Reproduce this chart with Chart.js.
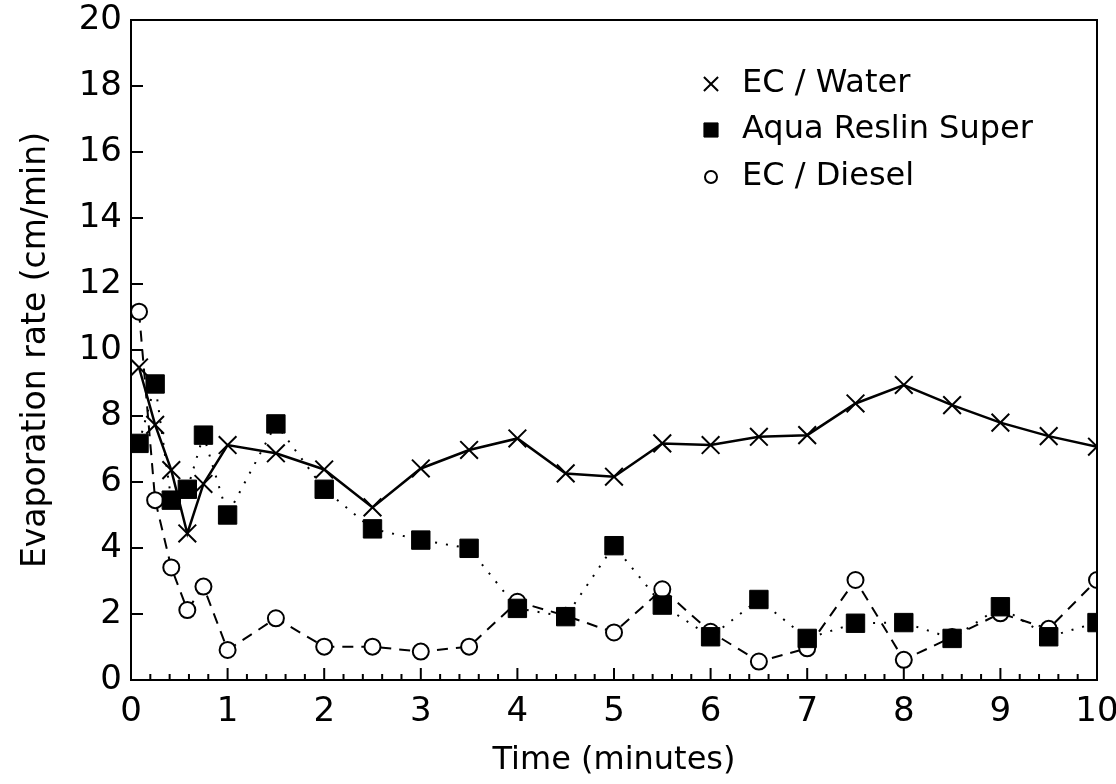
<!DOCTYPE html>
<html>
<head>
<meta charset="utf-8">
<script src="https://cdn.jsdelivr.net/npm/chart.js@4"></script>
<style>
  html, body { margin: 0; padding: 0; background: #fff; }
  #wrap { width: 1116px; height: 784px; }
</style>
</head>
<body>
<div id="wrap"><canvas id="evapChart"></canvas></div>
<script>
// time in minutes (first readings every 10 s, then every 30 s)
const times = [0.083, 0.25, 0.417, 0.583, 0.75, 1, 1.5, 2, 2.5, 3, 3.5, 4, 4.5, 5,
               5.5, 6, 6.5, 7, 7.5, 8, 8.5, 9, 9.5, 10];

// evaporation rate (cm/min)
const ecWater = [9.47, 7.73, 6.36, 4.44, 5.94, 7.12, 6.87, 6.38, 5.23, 6.41, 6.97, 7.32,
                 6.26, 6.16, 7.17, 7.12, 7.37, 7.42, 8.38, 8.94, 8.33, 7.80, 7.39, 7.07];
const aquaReslin = [7.17, 8.97, 5.45, 5.78, 7.42, 5.00, 7.76, 5.78, 4.58, 4.24, 3.99, 2.17,
                    1.92, 4.07, 2.27, 1.31, 2.44, 1.26, 1.72, 1.74, 1.26, 2.22, 1.31, 1.74];
const ecDiesel = [11.16, 5.45, 3.41, 2.12, 2.83, 0.91, 1.87, 1.01, 1.01, 0.86, 1.01, 2.37,
                  1.95, 1.44, 2.75, 1.46, 0.56, 0.96, 3.03, 0.61, 1.30, 2.02, 1.55, 3.03];

const seriesNames = ['EC / Water', 'Aqua Reslin Super', 'EC / Diesel'];
const FONT = 'DejaVu Sans';

function toPoints(ys) {
    return times.map((t, i) => ({ x: t, y: ys[i] }));
}

// inward ticks + box frame, like the original plot
const frameTicks = {
    id: 'frameTicks',
    afterDatasetsDraw(chart) {
        const { ctx, chartArea: a, scales: { x, y } } = chart;
        ctx.save();
        ctx.strokeStyle = '#000';
        ctx.lineWidth = 2;
        ctx.strokeRect(a.left, a.top, a.right - a.left, a.bottom - a.top);
        ctx.beginPath();
        for (let i = 0; i <= 50; i++) {
            const px = x.getPixelForValue(i * 0.2);
            const len = i % 5 === 0 ? 12 : 6;
            ctx.moveTo(px, a.bottom);
            ctx.lineTo(px, a.bottom - len);
        }
        for (let v = 2; v < 20; v += 2) {
            const py = y.getPixelForValue(v);
            ctx.moveTo(a.left, py);
            ctx.lineTo(a.left + 12, py);
        }
        ctx.stroke();
        ctx.restore();
    }
};

// legend drawn inside the plot, top right
const insideLegend = {
    id: 'insideLegend',
    afterDraw(chart) {
        const { ctx } = chart;
        const rows = [84, 130, 177];
        const sizes = [10, 10, 6];
        ctx.save();
        chart.data.datasets.forEach((ds, i) => {
            ctx.strokeStyle = '#000';
            ctx.fillStyle = ds.pointBackgroundColor;
            ctx.lineWidth = ds.pointBorderWidth;
            Chart.helpers.drawPoint(ctx, { pointStyle: ds.pointStyle, radius: sizes[i], rotation: 0, borderWidth: ds.pointBorderWidth }, 711, rows[i]);
            ctx.fillStyle = '#000';
            ctx.font = '32px "' + FONT + '"';
            ctx.textBaseline = 'middle';
            ctx.textAlign = 'left';
            ctx.fillText(ds.label, 742, rows[i]);
        });
        ctx.restore();
    }
};

const ctx = document.getElementById('evapChart').getContext('2d');
new Chart(ctx, {
    type: 'line',
    data: {
        datasets: [
            {
                label: seriesNames[0],
                data: toPoints(ecWater),
                borderColor: '#000',
                borderWidth: 2.5,
                pointStyle: 'crossRot',
                pointRadius: 12.5,
                pointBorderColor: '#000',
                pointBackgroundColor: '#000',
                pointBorderWidth: 2,
                order: 1
            },
            {
                label: seriesNames[1],
                data: toPoints(aquaReslin),
                borderColor: '#000',
                borderWidth: 2,
                borderDash: [2, 9],
                pointStyle: 'rect',
                pointRadius: 13,
                pointBorderColor: '#000',
                pointBackgroundColor: '#000',
                pointBorderWidth: 1,
                order: 0
            },
            {
                label: seriesNames[2],
                data: toPoints(ecDiesel),
                borderColor: '#000',
                borderWidth: 2,
                borderDash: [11, 8],
                pointStyle: 'circle',
                pointRadius: 8,
                pointBorderColor: '#000',
                pointBackgroundColor: '#fff',
                pointBorderWidth: 2,
                order: 2
            }
        ]
    },
    options: {
        responsive: true,
        maintainAspectRatio: false,
        animation: false,
        layout: { padding: { top: 20, right: 19, bottom: 0, left: 0 } },
        plugins: {
            legend: { display: false },
            tooltip: { enabled: false }
        },
        scales: {
            x: {
                type: 'linear',
                min: 0,
                max: 10,
                grid: { display: false, drawTicks: false },
                border: { display: false },
                ticks: { stepSize: 1, padding: 12, color: '#000', font: { family: FONT, size: 34 } },
                title: { display: true, text: 'Time (minutes)', color: '#000',
                         font: { family: FONT, size: 32 }, padding: { top: 0, bottom: 4 } },
                afterFit(scale) {
                    scale.height = 104;
                    scale.paddingLeft = 0;
                    scale.paddingRight = 0;
                }
            },
            y: {
                type: 'linear',
                min: 0,
                max: 20,
                grid: { display: false, drawTicks: false },
                border: { display: false },
                ticks: { stepSize: 2, padding: 9, color: '#000', font: { family: FONT, size: 34 } },
                title: { display: true, text: 'Evaporation rate (cm/min)', color: '#000',
                         font: { family: FONT, size: 33 }, padding: { top: 17, bottom: 0 } },
                afterFit(scale) {
                    scale.width = 131;
                    scale.paddingTop = 0;
                    scale.paddingBottom = 0;
                }
            }
        }
    },
    plugins: [frameTicks, insideLegend]
});
</script>
</body>
</html>
